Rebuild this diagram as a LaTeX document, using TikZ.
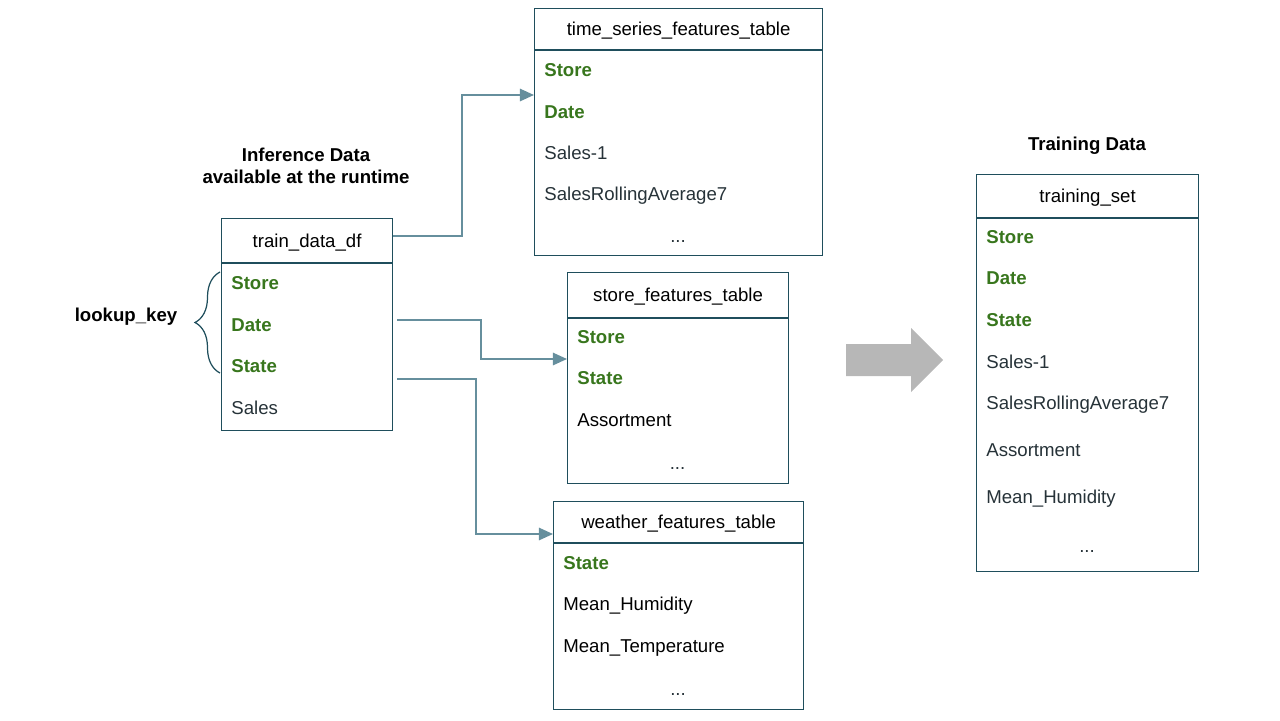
\documentclass[tikz,border=0pt]{standalone}
\usepackage{fontspec}
\setmainfont{Liberation Sans}
\usepackage{tikz}
\usepackage{xcolor}
\usetikzlibrary{arrows.meta,decorations.pathreplacing}

\definecolor{tblborder}{HTML}{1F4E5C}
\definecolor{keygreen}{HTML}{38761D}
\definecolor{fieldgray}{HTML}{263238}
\definecolor{linkblue}{HTML}{668F9D}
\definecolor{biggray}{HTML}{B7B7B7}

\newcommand{\tblfont}{\fontsize{10.6}{12.5}\selectfont}

\tikzset{
	tblhead/.style={draw=tblborder, line width=0.7pt, anchor=north west, inner sep=0pt, font=\tblfont, text height=7.6pt, text depth=0pt},
	tblbody/.style={draw=tblborder, line width=0.7pt, anchor=north, inner sep=0pt},
	keyfield/.style={anchor=west, inner sep=0pt, font=\tblfont\bfseries, text=keygreen, text height=7.6pt, text depth=0pt},
	plainfield/.style={anchor=west, inner sep=0pt, font=\tblfont, text=fieldgray, text height=7.6pt, text depth=0pt},
	blackfield/.style={plainfield, text=black},
	morerows/.style={anchor=base, inner sep=0pt, font=\tblfont, text=fieldgray},
	heading/.style={font=\tblfont\bfseries, align=center, text=black},
	link/.style={draw=linkblue, line width=1.1pt, -{Triangle[length=8pt,width=7pt]}},
}

\begin{document}
\begin{tikzpicture}[x=0.02cm, y=-0.02cm]
	\useasboundingbox (0,0) rectangle (1280,720);

	% inference side
	\node[heading] (infer) at (306,166) {Inference Data\\available at the runtime};
	\node[tblhead, minimum width=3.42cm, minimum height=0.88cm] (train) at (221,218) {train\_data\_df};
	\node[tblbody, minimum width=3.42cm, minimum height=3.34cm] (trainbody) at (train.south) {};
	\foreach \y/\t/\s in {283/Store/keyfield, 325/Date/keyfield, 366/State/keyfield, 408/Sales/plainfield}
	{
		\node[\s] (train-\y) at (231,\y) {\t};
	}

	% lookup key
	\coordinate (lkbot) at (220,373);
	\coordinate (lktop) at (220,272);
	\draw[draw=tblborder, line width=0.7pt, decorate, decoration={brace, amplitude=0.5cm}] (lkbot) -- (lktop);
	\node[heading] (lookup) at (126,317) {lookup\_key};

	% feature tables
	\node[tblhead, minimum width=5.76cm, minimum height=0.82cm] (ts) at (534,8) {time\_series\_features\_table};
	\node[tblbody, minimum width=5.76cm, minimum height=4.10cm] (tsbody) at (ts.south) {};
	\foreach \y/\t/\s in {70/Store/keyfield, 112/Date/keyfield, 153/Sales-1/plainfield, 194/SalesRollingAverage7/plainfield}
	{
		\node[\s] (ts-\y) at (544,\y) {\t};
	}
	\node[morerows] (tsmore) at (678,242) {...};

	\node[tblhead, minimum width=4.42cm, minimum height=0.90cm] (store) at (567,272) {store\_features\_table};
	\node[tblbody, minimum width=4.42cm, minimum height=3.30cm] (storebody) at (store.south) {};
	\foreach \y/\t/\s in {337/Store/keyfield, 378/State/keyfield, 420/Assortment/blackfield}
	{
		\node[\s] (store-\y) at (577,\y) {\t};
	}
	\node[morerows] (storemore) at (677.5,469) {...};

	\node[tblhead, minimum width=5.00cm, minimum height=0.82cm] (weather) at (553,501) {weather\_features\_table};
	\node[tblbody, minimum width=5.00cm, minimum height=3.32cm] (weatherbody) at (weather.south) {};
	\foreach \y/\t/\s in {563/State/keyfield, 604/Mean\_Humidity/blackfield, 646/Mean\_Temperature/blackfield}
	{
		\node[\s] (weather-\y) at (563,\y) {\t};
	}
	\node[morerows] (weathermore) at (678,695) {...};

	% joins
	\coordinate (tsin) at (534,95);
	\coordinate (dateout) at (397,320);
	\coordinate (storein) at (567,359);
	\coordinate (stateout) at (397,379);
	\coordinate (weatherin) at (553,534);
	\draw[link] ([yshift=0.1cm]train.east) -| (462,95) -- (tsin);
	\draw[link] (dateout) -| (481,359) -- (storein);
	\draw[link] (stateout) -| (476,534) -- (weatherin);

	% result
	\fill[biggray] (846,344) -- (911,344) -- (911,328) -- (943,360) -- (911,392) -- (911,376) -- (846,376) -- cycle;

	\node[heading] (trainlbl) at (1087,146) {Training Data};
	\node[tblhead, minimum width=4.44cm, minimum height=0.86cm] (training) at (976,174) {training\_set};
	\node[tblbody, minimum width=4.44cm, minimum height=7.06cm] (trainingbody) at (training.south) {};
	\foreach \y/\t/\s in {237/Store/keyfield, 278/Date/keyfield, 320/State/keyfield, 362/Sales-1/plainfield, 403/SalesRollingAverage7/plainfield, 450/Assortment/plainfield, 497/Mean\_Humidity/plainfield}
	{
		\node[\s] (training-\y) at (986,\y) {\t};
	}
	\node[morerows] (trainingmore) at (1087,552) {...};
\end{tikzpicture}
\end{document}
